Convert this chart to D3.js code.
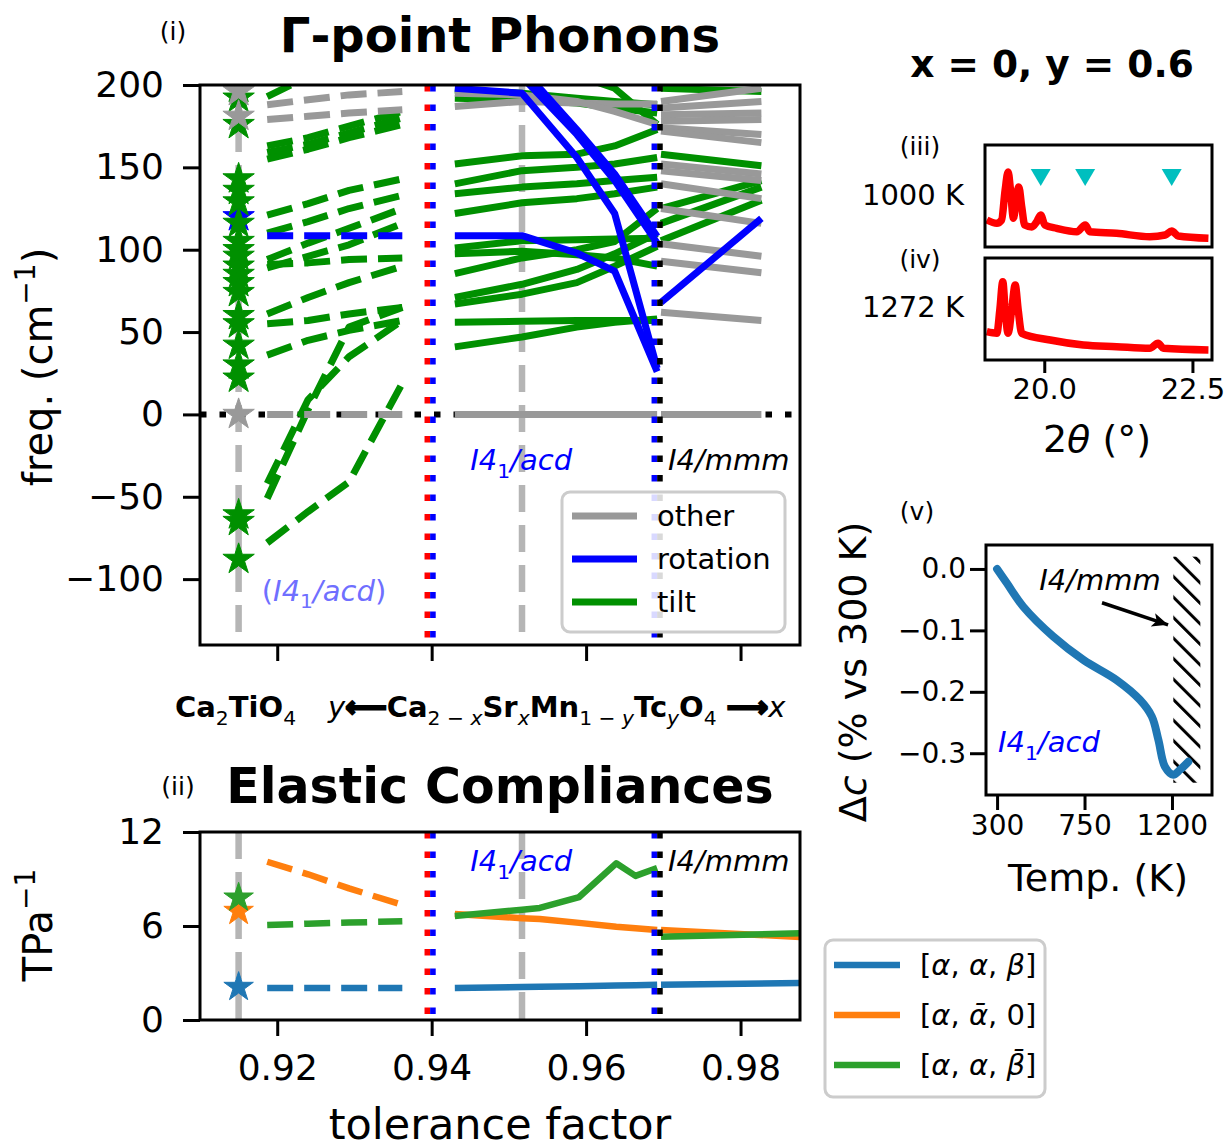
<!DOCTYPE html>
<html>
<head>
<meta charset="utf-8">
<script src="https://cdn.jsdelivr.net/npm/d3@7"></script>
<style>
  body { margin: 0; background: #fff; }
  svg { display: block; }
  text { font-family: "DejaVu Sans"; }
</style>
</head>
<body>
<div id="chart"></div>
<script>
// ---- data ----
// tolerance factor positions
const caTiX = 0.915;                           // Ca2TiO4 reference
const tcX = [0.9187, 0.9240, 0.9293, 0.9362];  // Tc substitution (dashed)
const srX = [0.9430, 0.9517, 0.9588, 0.9637, 0.9692]; // Sr substitution, I4_1/acd
const htX = [0.9697, 0.9827];                  // I4/mmm
const grayGuides = [0.915, 0.9517];
const redBlueX = 0.9398;
const blueBlackX = 0.9692;

// Gamma-point phonon frequencies (cm^-1)
const tiltTc = [
  [193, 205, 215, 225], [163, 168, 175, 184], [159, 164, 171, 180], [155, 161, 168, 176],
  [121, 128, 136, 143], [110, 117, 125, 133], [94, 104, 113, 125], [89, 96, 103, 116],
  [91, 92, 94, 95], [61, 71, 80, 90], [55, 57, 61, 65], [36, 45, 51, 57],
  [-42, 9, 35, 57], [-51, 3, 53, 65], [-78, -59, -41, 19]
];
const rotTc = [[108.5, 108.5, 108.5, 108.5]];
const otherTc = [[188, 191, 194, 196], [179, 181, 183, 185], [0, 0, 0, 0]];

const tiltSr = [
  [220, 212, 206, 198, 176], [197, 195, 192, 190, 188], [192, 191, 189, 186, 183],
  [152, 157, 158, 163, 173], [140, 148, 150, 152, 156], [134, 138, 140, 142, 144],
  [122, 128.5, 131, 134, 138], [101, 105.5, 106, 106.5, 107], [97.5, 99, 97, 95, 90],
  [85.5, 95, 100, 105, 125], [71, 79, 88, 97.5, 110], [67, 73, 80, 90, 102],
  [56, 56.5, 57, 57, 57], [41, 47, 53, 56, 58]
];
const rotSr = [
  [108.5, 108.5, 98, 87, 26], [198, 195, 156, 122, 28],
  [260, 205, 170, 142, 104], [265, 210, 173, 146, 108]
];
const otherSr = [[187, 190, 189, 188.5, 188.5], [195, 194, 190, 184, 176], [0, 0, 0, 0, 0]];

const tiltHT = [[198, 196], [158, 151], [125, 142], [116, 138], [105.5, 130]];
const rotHT = [[68, 119]];
const otherHT = [
  [190, 198], [186, 190], [182, 183], [178, 179], [174, 170], [172, 165], [152, 146],
  [148, 142], [140, 131], [125, 116], [103.6, 96], [93, 86], [62, 57], [0, 0]
];

const starTilt = [198, 192, 176, 143, 136, 129, 116, 105, 100, 96, 90, 85, 80, 74, 60, 55, 42, 30, 22, -61, -65, -88];
const starRot = [120];
const starOther = [196, 181, 0];

// elastic compliances (TPa^-1): [a,a,b], [a,-a,0], [a,a,-b]
const elasSrX = [0.9430, 0.9517, 0.9540, 0.9591, 0.9639, 0.9664, 0.9692];
const elasHTX = [0.9697, 0.9877];
const elasStar = [2.1, 6.95, 7.8];
const elasTc = [[2.05, 2.05, 2.05, 2.05], [10.1, 9.3, 8.4, 7.35], [6.06, 6.15, 6.22, 6.3]];
const elasSr = [
  [2.05, 2.1, 2.12, 2.15, 2.2, 2.22, 2.25],
  [6.76, 6.5, 6.45, 6.2, 5.95, 5.85, 5.74],
  [6.64, 7.04, 7.15, 7.85, 10.0, 9.2, 9.7]
];
const elasHT = [[2.25, 2.36], [5.74, 5.3], [5.32, 5.53]];
const elasNames = ["abb", "aa0", "aab"];
const elasColors = ["#1f77b4", "#ff7f0e", "#2ca02c"];

// XRD, 2theta (deg) vs intensity (arb.)
const xrd1000T = [19.03, 19.20, 19.28, 19.34, 19.39, 19.43, 19.48, 19.53, 19.57, 19.62, 19.67, 19.79, 19.87, 19.94, 20.01, 20.21, 20.55, 20.69, 20.77, 21.22, 21.78, 22.04, 22.15, 22.26, 22.77];
const xrd1000I = [27, 23.7, 27, 57, 75, 57, 28.7, 50, 60, 40, 22, 20, 25, 32, 22, 18.7, 15.3, 22, 15.3, 13.7, 10.3, 12, 16, 11, 8.7];
const xrd1272T = [19.03, 19.20, 19.25, 19.30, 19.34, 19.39, 19.45, 19.51, 19.56, 19.62, 20.10, 20.66, 21.22, 21.78, 21.92, 22.01, 22.77];
const xrd1272I = [28.3, 26.7, 50, 78.3, 50, 26.7, 50, 75, 50, 26.7, 20, 15, 13.3, 11.7, 16.7, 11.7, 10];
const superPeaks = [19.94, 20.69, 22.15];
const superPeakI = 70;

// c-axis change vs temperature
const tempK = [300, 350, 435, 589, 744, 916, 1035, 1096, 1130, 1164, 1207, 1241, 1284];
const deltaC = [0, -0.023, -0.0615, -0.110, -0.148, -0.181, -0.213, -0.240, -0.278, -0.322, -0.335, -0.327, -0.314];
const hatchT = [1207, 1346];
const hatchC = [0.02, -0.348];

// ---- drawing ----
const FONT = "DejaVu Sans";
const GREEN = "#009000", BLUE = "#0000ff", GRAY = "#999999", GUIDE = "#b5b5b5";

const svg = d3.select("#chart").append("svg")
  .attr("width", 1228).attr("height", 1148)
  .attr("font-family", FONT);

function rich(t, parts, fs) {
  let shift = 0;
  parts.forEach(([s, st = ""]) => {
    const ts = t.append("tspan").text(s);
    let target = 0, size = fs;
    if (st.includes("_")) { target = 0.26 * fs; size = 0.7 * fs; }
    if (st.includes("^")) { target = -0.42 * fs; size = 0.7 * fs; }
    ts.attr("dy", target - shift).attr("font-size", size);
    shift = target;
    if (st.includes("b")) ts.attr("font-weight", "bold");
    if (st.includes("i")) ts.attr("font-style", "italic");
    if (st.includes("A")) ts.attr("stroke", "#000").attr("stroke-width", 2.2);
  });
  return t;
}

function styleAxis(g, fs) {
  g.attr("font-family", null).attr("font-size", null);
  g.select(".domain").remove();
  g.selectAll(".tick line").attr("stroke", "#000").attr("stroke-width", 3);
  g.selectAll(".tick text").attr("font-size", fs).attr("fill", "#000");
}

function starPath(R) {
  const r = R * 0.382;
  let p = "";
  for (let i = 0; i < 10; i++) {
    const a = -Math.PI / 2 + i * Math.PI / 5, rr = i % 2 ? r : R;
    p += (i ? "L" : "M") + (rr * Math.cos(a)).toFixed(2) + "," + (rr * Math.sin(a)).toFixed(2);
  }
  return p + "Z";
}

const defs = svg.append("defs");

// shared x scale for panels (i) and (ii)
const x = d3.scaleLinear().domain([0.9100, 0.9877]).range([200, 800]);

function guides(g, y0, y1) {
  grayGuides.forEach(v => {
    g.append("line").attr("x1", x(v)).attr("x2", x(v)).attr("y1", y0).attr("y2", y1)
      .attr("stroke", GUIDE).attr("stroke-width", 6.5).attr("stroke-dasharray", "27,13");
  });
}
function dottedPair(g, v, c1, c2, y0, y1) {
  [[c1, -2.8], [c2, 2.8]].forEach(([c, off]) => {
    g.append("line").attr("x1", x(v) + off).attr("x2", x(v) + off).attr("y1", y0).attr("y2", y1)
      .attr("stroke", c).attr("stroke-width", 5.6).attr("stroke-dasharray", "6.5,13");
  });
}

// ===== panel (i): phonons =====
const y1 = d3.scaleLinear().domain([-140, 200]).range([645, 85]);
defs.append("clipPath").attr("id", "clip1").append("rect")
  .attr("x", 200).attr("y", 85).attr("width", 600).attr("height", 560);
const p1 = svg.append("g").attr("clip-path", "url(#clip1)");

guides(p1, 85, 645);
p1.append("line").attr("x1", 200).attr("x2", 800).attr("y1", y1(0)).attr("y2", y1(0))
  .attr("stroke", "#000").attr("stroke-width", 6).attr("stroke-dasharray", "6.5,13");

function drawSet(g, xs, sets, color, dashed, ys, w) {
  const line = d3.line().x((d, i) => x(xs[i])).y(d => ys(d));
  g.selectAll(null).data(sets).join("path")
    .attr("d", line).attr("fill", "none").attr("stroke", color)
    .attr("stroke-width", w).attr("stroke-linejoin", "round")
    .attr("stroke-dasharray", dashed ? "26,11" : null);
}
drawSet(p1, tcX, tiltTc, GREEN, true, y1, 7);
drawSet(p1, tcX, otherTc, GRAY, true, y1, 7);
drawSet(p1, tcX, rotTc, BLUE, true, y1, 7);
drawSet(p1, srX, tiltSr, GREEN, false, y1, 7);
drawSet(p1, srX, otherSr, GRAY, false, y1, 7);
drawSet(p1, srX, rotSr, BLUE, false, y1, 7);
drawSet(p1, htX, tiltHT, GREEN, false, y1, 7);
drawSet(p1, htX, otherHT, GRAY, false, y1, 7);
drawSet(p1, htX, rotHT, BLUE, false, y1, 7);

const star16 = starPath(16.5);
[[starRot, BLUE], [starTilt, GREEN], [starOther, GRAY]].forEach(([vals, c]) => {
  p1.selectAll(null).data(vals).join("path")
    .attr("d", star16).attr("transform", d => `translate(${x(caTiX)},${y1(d)})`)
    .attr("fill", c).attr("stroke", c).attr("stroke-width", 1);
});

dottedPair(p1, redBlueX, "#ff0000", BLUE, 85, 645);
dottedPair(p1, blueBlackX, BLUE, "#000", 85, 645);

svg.append("rect").attr("x", 200).attr("y", 85).attr("width", 600).attr("height", 560)
  .attr("fill", "none").attr("stroke", "#000").attr("stroke-width", 3);

const ax1 = svg.append("g").attr("transform", "translate(200,0)")
  .call(d3.axisLeft(y1).tickValues([-100, -50, 0, 50, 100, 150, 200]).tickSize(17).tickPadding(19));
styleAxis(ax1, 36);
const bx1 = svg.append("g").attr("transform", "translate(0,645)")
  .call(d3.axisBottom(x).tickValues([0.92, 0.94, 0.96, 0.98]).tickFormat("").tickSize(16));
styleAxis(bx1, 36);

rich(svg.append("text").attr("x", 500).attr("y", 52).attr("text-anchor", "middle"),
  [["Γ-point Phonons", "b"]], 48);
svg.append("text").attr("x", 173).attr("y", 40).attr("text-anchor", "middle").attr("font-size", 25).text("(i)");
rich(svg.append("text").attr("transform", `translate(52,${367}) rotate(-90)`).attr("text-anchor", "middle"),
  [["freq. (cm"], ["−1", "^"], [")"]], 40);

rich(svg.append("text").attr("x", x(0.9450)).attr("y", y1(-34)).attr("fill", BLUE),
  [["I4", "i"], ["1", "_"], ["/acd", "i"]], 29);
rich(svg.append("text").attr("x", x(0.9706)).attr("y", y1(-34)).attr("fill", "#000"),
  [["I4/mmm", "i"]], 29);
rich(svg.append("text").attr("x", x(0.9180)).attr("y", y1(-113)).attr("fill", "#6f6fff"),
  [["("], ["I4", "i"], ["1", "_"], ["/acd", "i"], [")"]], 29);

// legend (i)
const lg1 = svg.append("g");
lg1.append("rect").attr("x", 562).attr("y", 492).attr("width", 223).attr("height", 140).attr("rx", 8)
  .attr("fill", "#fff").attr("fill-opacity", 0.85).attr("stroke", "#cccccc").attr("stroke-width", 3);
[["other", GRAY], ["rotation", BLUE], ["tilt", GREEN]].forEach(([name, c], i) => {
  const yy = 516 + i * 43;
  lg1.append("line").attr("x1", 572).attr("x2", 637).attr("y1", yy).attr("y2", yy)
    .attr("stroke", c).attr("stroke-width", 7);
  lg1.append("text").attr("x", 657).attr("y", yy + 10).attr("font-size", 29).text(name);
});

// composition label
rich(svg.append("text").attr("x", 175).attr("y", 717), [["Ca", "b"], ["2", "_"], ["TiO", "b"], ["4", "_"]], 29);
rich(svg.append("text").attr("x", 328).attr("y", 717),
  [["y", "i"], ["⟵", "bA"], ["Ca", "b"], ["2 − ", "_"], ["x", "_i"], ["Sr", "b"], ["x", "_i"],
   ["Mn", "b"], ["1 − ", "_"], ["y", "_i"], ["Tc", "b"], ["y", "_i"], ["O", "b"], ["4", "_"],
   [" ⟶", "bA"], ["x", "i"]], 29);

// ===== panel (ii): elastic compliances =====
const y2 = d3.scaleLinear().domain([0, 12]).range([1020, 832]);
defs.append("clipPath").attr("id", "clip2").append("rect")
  .attr("x", 200).attr("y", 832).attr("width", 600).attr("height", 188);
const p2 = svg.append("g").attr("clip-path", "url(#clip2)");
guides(p2, 832, 1020);
elasNames.forEach((n, k) => {
  drawSet(p2, tcX, [elasTc[k]], elasColors[k], true, y2, 6.5);
  drawSet(p2, elasSrX, [elasSr[k]], elasColors[k], false, y2, 6.5);
  drawSet(p2, elasHTX, [elasHT[k]], elasColors[k], false, y2, 6.5);
});
const star15 = starPath(15.5);
p2.selectAll(null).data(elasStar).join("path")
  .attr("d", star15).attr("transform", d => `translate(${x(caTiX)},${y2(d)})`)
  .attr("fill", (d, i) => elasColors[i]).attr("stroke", (d, i) => elasColors[i]);
dottedPair(p2, redBlueX, "#ff0000", BLUE, 832, 1020);
dottedPair(p2, blueBlackX, BLUE, "#000", 832, 1020);

svg.append("rect").attr("x", 200).attr("y", 832).attr("width", 600).attr("height", 188)
  .attr("fill", "none").attr("stroke", "#000").attr("stroke-width", 3);
const ax2 = svg.append("g").attr("transform", "translate(200,0)")
  .call(d3.axisLeft(y2).tickValues([0, 6, 12]).tickSize(17).tickPadding(19));
styleAxis(ax2, 36);
const bx2 = svg.append("g").attr("transform", "translate(0,1020)")
  .call(d3.axisBottom(x).tickValues([0.92, 0.94, 0.96, 0.98]).tickFormat(d3.format(".2f")).tickSize(16).tickPadding(18));
styleAxis(bx2, 36);

rich(svg.append("text").attr("x", 500).attr("y", 803).attr("text-anchor", "middle"),
  [["Elastic Compliances", "b"]], 49);
svg.append("text").attr("x", 178).attr("y", 795).attr("text-anchor", "middle").attr("font-size", 25).text("(ii)");
rich(svg.append("text").attr("transform", "translate(52,925) rotate(-90)").attr("text-anchor", "middle"),
  [["TPa"], ["−1", "^"]], 40);
svg.append("text").attr("x", 500).attr("y", 1139).attr("text-anchor", "middle").attr("font-size", 43)
  .text("tolerance factor");
rich(svg.append("text").attr("x", x(0.9450)).attr("y", y2(9.5)).attr("fill", BLUE),
  [["I4", "i"], ["1", "_"], ["/acd", "i"]], 29);
rich(svg.append("text").attr("x", x(0.9706)).attr("y", y2(9.5)).attr("fill", "#000"),
  [["I4/mmm", "i"]], 29);

// legend (ii)
const lg2 = svg.append("g");
lg2.append("rect").attr("x", 825).attr("y", 940).attr("width", 220).attr("height", 157).attr("rx", 8)
  .attr("fill", "#fff").attr("stroke", "#cccccc").attr("stroke-width", 3);
const elasLabels = [
  [["["], ["α", "i"], [", "], ["α", "i"], [", "], ["β", "i"], ["]"]],
  [["["], ["α", "i"], [", "], ["α\u0304", "i"], [", 0]"]],
  [["["], ["α", "i"], [", "], ["α", "i"], [", "], ["β\u0304", "i"], ["]"]]
];
elasLabels.forEach((lab, i) => {
  const yy = 965 + i * 50;
  lg2.append("line").attr("x1", 834).attr("x2", 900).attr("y1", yy).attr("y2", yy)
    .attr("stroke", elasColors[i]).attr("stroke-width", 6.5);
  rich(lg2.append("text").attr("x", 920).attr("y", yy + 10), lab, 29);
});

// ===== panels (iii)/(iv): XRD =====
const xr = d3.scaleLinear().domain([19.0, 22.83]).range([985, 1212]);
const yr3 = d3.scaleLinear().domain([0, 102]).range([247, 145]);
const yr4 = d3.scaleLinear().domain([0, 102]).range([360, 258]);
defs.append("clipPath").attr("id", "clip3").append("rect").attr("x", 985).attr("y", 145).attr("width", 227).attr("height", 102);
defs.append("clipPath").attr("id", "clip4").append("rect").attr("x", 985).attr("y", 258).attr("width", 227).attr("height", 102);

const xrdLine = ys => d3.line().x(d => xr(d[0])).y(d => ys(d[1])).curve(d3.curveMonotoneX);
svg.append("g").attr("clip-path", "url(#clip3)").append("path")
  .attr("d", xrdLine(yr3)(xrd1000T.map((t, i) => [t, xrd1000I[i]])))
  .attr("fill", "none").attr("stroke", "#ff0000").attr("stroke-width", 7.5).attr("stroke-linejoin", "round");
svg.append("g").attr("clip-path", "url(#clip4)").append("path")
  .attr("d", xrdLine(yr4)(xrd1272T.map((t, i) => [t, xrd1272I[i]])))
  .attr("fill", "none").attr("stroke", "#ff0000").attr("stroke-width", 7.5).attr("stroke-linejoin", "round");
svg.selectAll(null).data(superPeaks).join("path")
  .attr("d", "M-10,-8L10,-8L0,9Z")
  .attr("transform", d => `translate(${xr(d)},${yr3(superPeakI)})`)
  .attr("fill", "#00bfbf");

[[145, 247], [258, 360]].forEach(([t, b]) => {
  svg.append("rect").attr("x", 985).attr("y", t).attr("width", 227).attr("height", b - t)
    .attr("fill", "none").attr("stroke", "#000").attr("stroke-width", 3);
});
const bx4 = svg.append("g").attr("transform", "translate(0,360)")
  .call(d3.axisBottom(xr).tickValues([20, 22.5]).tickFormat(d3.format(".1f")).tickSize(13).tickPadding(5));
styleAxis(bx4, 29);

svg.append("text").attr("x", 920).attr("y", 155).attr("text-anchor", "middle").attr("font-size", 25).text("(iii)");
svg.append("text").attr("x", 913).attr("y", 205).attr("text-anchor", "middle").attr("font-size", 29).text("1000 K");
svg.append("text").attr("x", 920).attr("y", 268).attr("text-anchor", "middle").attr("font-size", 25).text("(iv)");
svg.append("text").attr("x", 913).attr("y", 317).attr("text-anchor", "middle").attr("font-size", 29).text("1272 K");
rich(svg.append("text").attr("x", 1097).attr("y", 452).attr("text-anchor", "middle"),
  [["2"], ["θ", "i"], [" (°)"]], 38);
rich(svg.append("text").attr("x", 1052).attr("y", 77).attr("text-anchor", "middle"),
  [["x = 0, y = 0.6", "b"]], 37.5);

// ===== panel (v): c-axis vs temperature =====
const xt = d3.scaleLinear().domain([243, 1406]).range([986, 1212]);
const yc = d3.scaleLinear().domain([-0.368, 0.039]).range([795, 545]);

const hatch = defs.append("pattern").attr("id", "hatch").attr("patternUnits", "userSpaceOnUse")
  .attr("width", 14.5).attr("height", 14.5).attr("patternTransform", "rotate(-45)");
hatch.append("line").attr("x1", 0).attr("y1", 0).attr("x2", 0).attr("y2", 14.5)
  .attr("stroke", "#000").attr("stroke-width", 6);
svg.append("rect").attr("x", xt(hatchT[0])).attr("y", yc(hatchC[0]))
  .attr("width", xt(hatchT[1]) - xt(hatchT[0])).attr("height", yc(hatchC[1]) - yc(hatchC[0]))
  .attr("fill", "url(#hatch)");

svg.append("path")
  .attr("d", d3.line().x(d => xt(d[0])).y(d => yc(d[1])).curve(d3.curveCatmullRom)(tempK.map((t, i) => [t, deltaC[i]])))
  .attr("fill", "none").attr("stroke", "#1f77b4").attr("stroke-width", 8).attr("stroke-linecap", "round");

svg.append("rect").attr("x", 986).attr("y", 545).attr("width", 226).attr("height", 250)
  .attr("fill", "none").attr("stroke", "#000").attr("stroke-width", 3);
const ax5 = svg.append("g").attr("transform", "translate(986,0)")
  .call(d3.axisLeft(yc).tickValues([0, -0.1, -0.2, -0.3]).tickFormat(d3.format(".1f")).tickSize(16).tickPadding(4));
styleAxis(ax5, 28);
const bx5 = svg.append("g").attr("transform", "translate(0,795)")
  .call(d3.axisBottom(xt).tickValues([300, 750, 1200]).tickFormat(d3.format("d")).tickSize(15).tickPadding(5));
styleAxis(bx5, 28);

defs.append("marker").attr("id", "arrowhead").attr("markerUnits", "userSpaceOnUse")
  .attr("markerWidth", 20).attr("markerHeight", 20).attr("refX", 16).attr("refY", 8).attr("orient", "auto")
  .append("path").attr("d", "M0,1L16,8L0,15L4,8Z").attr("fill", "#000");
svg.append("line").attr("x1", xt(840)).attr("y1", yc(-0.055)).attr("x2", xt(1180)).attr("y2", yc(-0.091))
  .attr("stroke", "#000").attr("stroke-width", 3.5).attr("marker-end", "url(#arrowhead)");
rich(svg.append("text").attr("x", xt(830)).attr("y", yc(-0.034)).attr("text-anchor", "middle"),
  [["I4/mmm", "i"]], 29);
rich(svg.append("text").attr("x", xt(305)).attr("y", yc(-0.298)).attr("fill", BLUE),
  [["I4", "i"], ["1", "_"], ["/acd", "i"]], 29);
svg.append("text").attr("x", 917).attr("y", 520).attr("text-anchor", "middle").attr("font-size", 25).text("(v)");
rich(svg.append("text").attr("transform", "translate(866,672) rotate(-90)").attr("text-anchor", "middle"),
  [["Δ"], ["c", "i"], [" (% vs 300 K)"]], 38);
svg.append("text").attr("x", 1098).attr("y", 891).attr("text-anchor", "middle").attr("font-size", 38).text("Temp. (K)");
</script>
</body>
</html>
